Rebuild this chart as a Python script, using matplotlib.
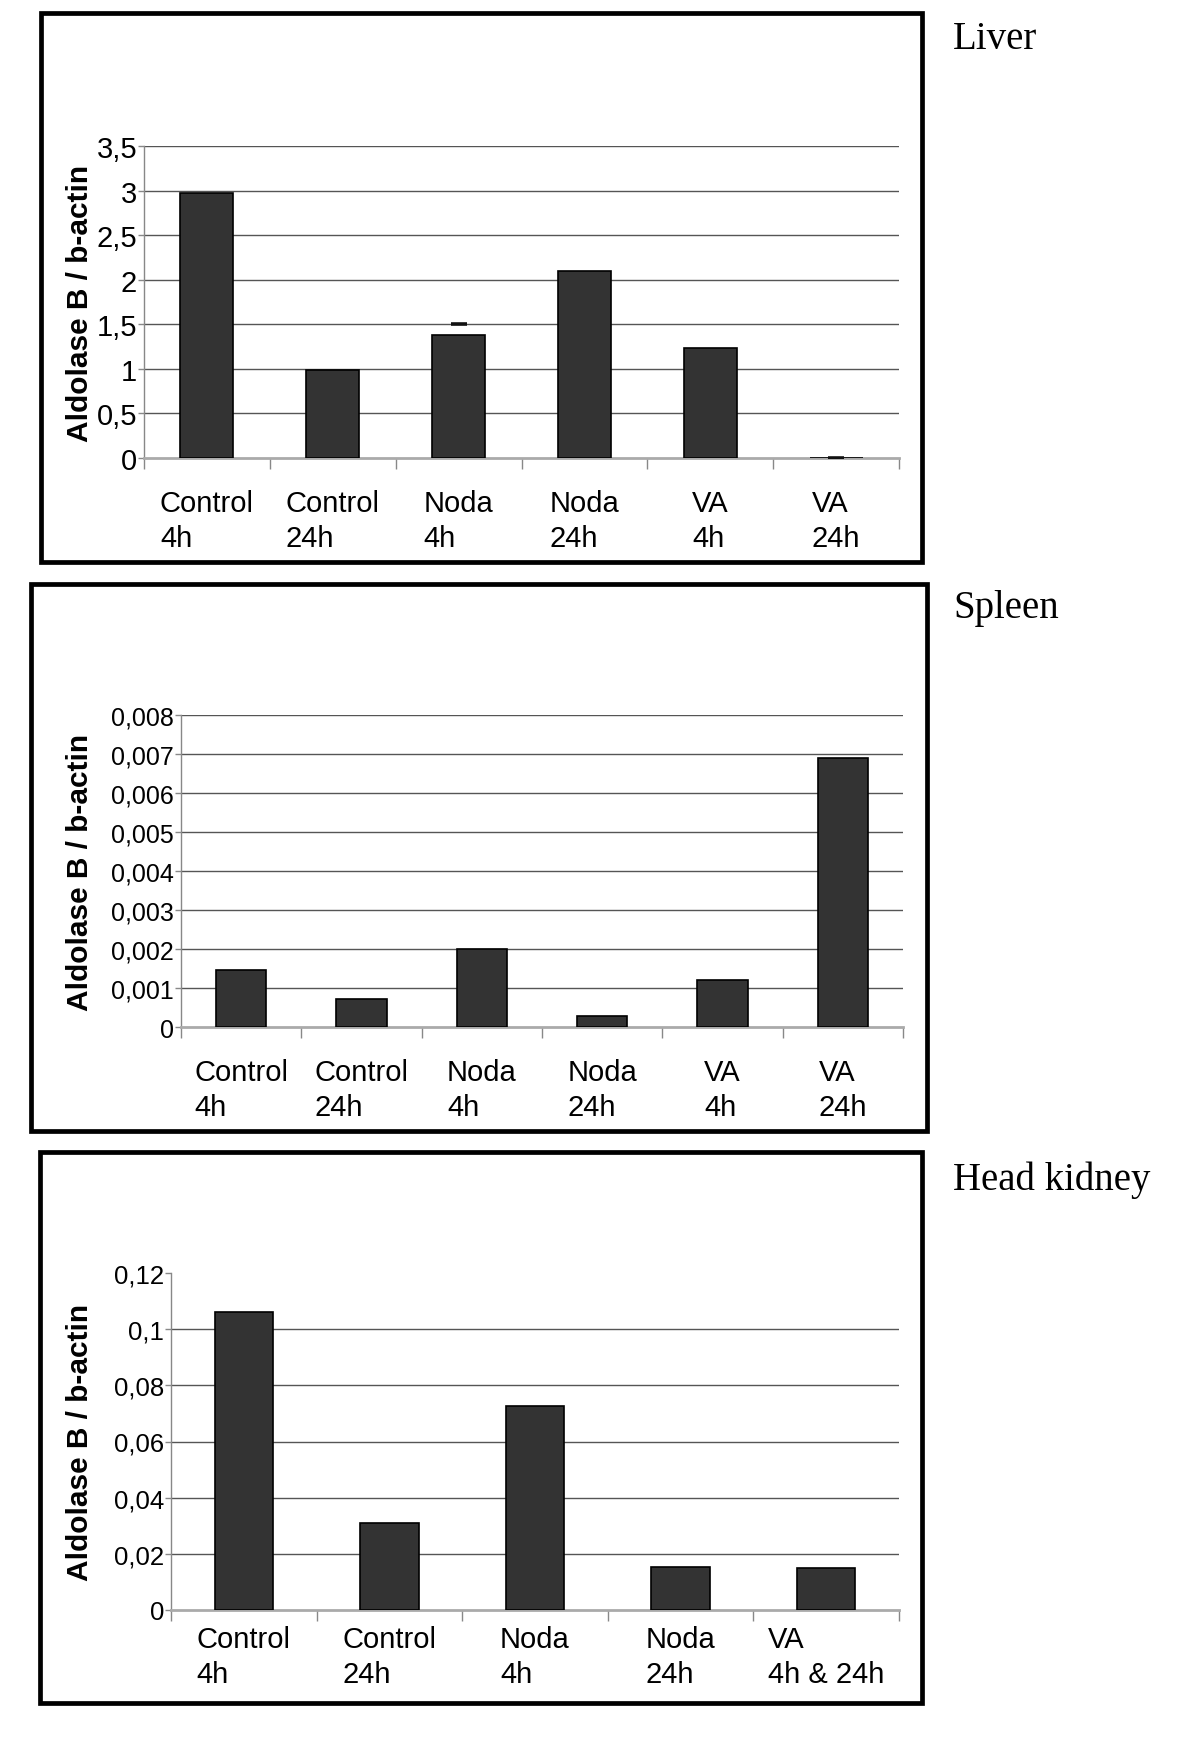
import matplotlib
matplotlib.use("Agg")
import matplotlib.pyplot as plt
from matplotlib.patches import Rectangle

W, H = 1200, 1740

# ---- data -------------------------------------------------------------
groups6 = ["Control\n4h", "Control\n24h", "Noda\n4h", "Noda\n24h", "VA\n4h", "VA\n24h"]
groups5 = ["Control\n4h", "Control\n24h", "Noda\n4h", "Noda\n24h", "VA\n4h & 24h"]

liver_values = [2.97, 0.99, 1.38, 2.10, 1.23, 0.0]
liver_marks = [None, None, 1.50, None, None, 0.0]
liver_ticks = [0, 0.5, 1, 1.5, 2, 2.5, 3, 3.5]

spleen_values = [0.00147, 0.00072, 0.00200, 0.00029, 0.00121, 0.00690]
spleen_ticks = [0, 0.001, 0.002, 0.003, 0.004, 0.005, 0.006, 0.007, 0.008]

kidney_values = [0.106, 0.031, 0.0725, 0.0152, 0.0148]
kidney_ticks = [0, 0.02, 0.04, 0.06, 0.08, 0.1, 0.12]

YLABEL = "Aldolase B / b-actin"
SANS = ["Liberation Sans", "DejaVu Sans"]
SERIF = ["Liberation Serif", "DejaVu Serif"]
BAR = "#333333"


def comma(v):
    s = f"{v:g}"
    return s.replace(".", ",")


def rect(l, t, r, b):
    return [l / W, 1 - b / H, (r - l) / W, (b - t) / H]


def panel(fig, ax_px, box_px, title, title_y, cats, values, ticks, marks=None,
          width=0.42, grid_top=True, label_gap=31, tick_fs=19):
    l, t, r, b = box_px
    fig.patches.append(Rectangle((l / W, 1 - b / H), (r - l) / W, (b - t) / H,
                                 transform=fig.transFigure, fill=False,
                                 edgecolor="black", linewidth=3.4))
    fig.text(953 / W, 1 - title_y / H, title, fontsize=28, family=SERIF,
             ha="left", va="baseline")

    ax = fig.add_axes(rect(*ax_px))
    x = list(range(len(cats)))
    ax.bar(x, values, width=width, color=BAR, edgecolor="black", linewidth=1.2,
           zorder=3)
    if marks:
        for xi, m in zip(x, marks):
            if m is not None:
                ax.plot([xi], [m], marker="_", markersize=11, mew=2.6,
                        color="#111111", zorder=4)

    ax.set_xlim(-0.5, len(cats) - 0.5)
    ax.set_ylim(ticks[0], ticks[-1])
    ax.set_yticks(ticks)
    ax.set_yticklabels([comma(v) for v in ticks], family=SANS, fontsize=tick_fs)
    grid = ticks[1:] if grid_top else ticks[1:-1]
    for g in grid:
        ax.axhline(g, color="#555555", linewidth=1.0, zorder=1)

    ax.set_xticks([i - 0.5 for i in range(len(cats) + 1)])
    ax.set_xticklabels([])
    ax.tick_params(axis="x", length=8, width=1, color="#888888", direction="out")
    ax.tick_params(axis="y", length=4, width=1, color="#888888", pad=1)
    for s in ("top", "right"):
        ax.spines[s].set_visible(False)
    ax.spines["left"].set_color("#888888")
    ax.spines["left"].set_linewidth(1.0)
    ax.spines["bottom"].set_color("#aaaaaa")
    ax.spines["bottom"].set_linewidth(2.0)

    ax_h = ax_px[3] - ax_px[1]
    for xi, c in zip(x, cats):
        ax.text(xi, -label_gap / ax_h, c, transform=ax.get_xaxis_transform(),
                ha="center", va="top", multialignment="left", family=SANS,
                fontsize=21, linespacing=1.3)

    cy = (ax_px[1] + ax_px[3]) / 2
    fig.text(80 / W, 1 - cy / H, YLABEL, rotation=90, ha="center", va="center",
             family=SANS, fontsize=21.5, fontweight="bold")
    return ax


def main():
    fig = plt.figure(figsize=(W / 100, H / 100), dpi=100)

    panel(fig, (144, 147, 899, 459), (41, 14, 922, 563), "Liver", 49,
          groups6, liver_values, liver_ticks, marks=liver_marks, width=0.42,
          tick_fs=21)
    panel(fig, (181, 716, 903, 1028), (31, 585, 927, 1132), "Spleen", 618,
          groups6, spleen_values, spleen_ticks, width=0.42, tick_fs=18)
    panel(fig, (171, 1274, 899, 1611), (40, 1153, 922, 1704), "Head kidney", 1190,
          groups5, kidney_values, kidney_ticks, width=0.40, grid_top=False,
          label_gap=15, tick_fs=18.5)

    fig.savefig("out.png", dpi=100, facecolor="white")
    plt.close(fig)


if __name__ == "__main__":
    main()
